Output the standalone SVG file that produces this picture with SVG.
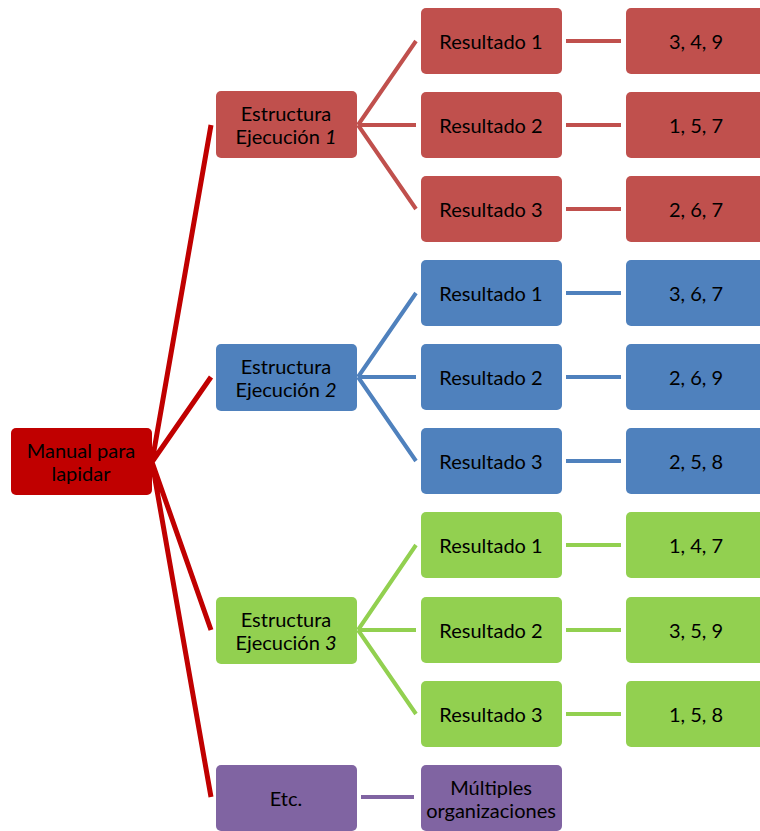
<svg xmlns="http://www.w3.org/2000/svg" width="760" height="831" viewBox="0 0 760 831">
<style>
text{font-family:Lato,"Liberation Sans",sans-serif;font-size:20px;fill:#000;text-anchor:middle;dominant-baseline:central}
.red{fill:#C0504D}.blue{fill:#4F81BD}.green{fill:#92D050}.purple{fill:#8064A2}.root{fill:#C00000}
.lr{stroke:#C00000;stroke-width:5;fill:none}
.cr{stroke:#C0504D;stroke-width:4;fill:none}
.cb{stroke:#4F81BD;stroke-width:4;fill:none}
.cg{stroke:#92D050;stroke-width:4;fill:none}
.cp{stroke:#8064A2;stroke-width:4;fill:none}
</style>
<g id="connectors">
<path class="lr" d="M152 462L211 125M152 462L211 377M152 462L211 630M152 462L211 797"/>
<path class="cr" d="M358 125L416 41M358 125L416 125M358 125L416 209M566 41L621 41M566 125L621 125M566 209L621 209"/>
<path class="cb" d="M358 377L416 293M358 377L416 377M358 377L416 461M566 293L621 293M566 377L621 377M566 461L621 461"/>
<path class="cg" d="M358 630L416 545M358 630L416 630M358 630L416 714M566 545L621 545M566 630L621 630M566 714L621 714"/>
<path class="cp" d="M361 797L414 797"/>
</g>
<g id="root"><rect class="root" x="11" y="428" width="141" height="67" rx="5"/><text x="81" y="450">Manual para</text><text x="81" y="473">lapidar</text></g>
<g id="e1"><rect class="red" x="216" y="91" width="141" height="67" rx="5"/><text x="286" y="113">Estructura</text><text x="286" y="136">Ejecución <tspan font-style="italic">1</tspan></text></g>
<g id="e2"><rect class="blue" x="216" y="344" width="141" height="67" rx="5"/><text x="286" y="366">Estructura</text><text x="286" y="389">Ejecución <tspan font-style="italic">2</tspan></text></g>
<g id="e3"><rect class="green" x="216" y="597" width="141" height="67" rx="5"/><text x="286" y="619">Estructura</text><text x="286" y="642">Ejecución <tspan font-style="italic">3</tspan></text></g>
<g id="etc"><rect class="purple" x="216" y="765" width="141" height="66" rx="5"/><text x="286" y="798">Etc.</text></g>
<g id="r1a"><rect class="red" x="421" y="8" width="141" height="66" rx="5"/><text x="491" y="41">Resultado 1</text></g>
<g id="r1b"><rect class="red" x="421" y="92" width="141" height="66" rx="5"/><text x="491" y="125">Resultado 2</text></g>
<g id="r1c"><rect class="red" x="421" y="176" width="141" height="66" rx="5"/><text x="491" y="209">Resultado 3</text></g>
<g id="r2a"><rect class="blue" x="421" y="260" width="141" height="66" rx="5"/><text x="491" y="293">Resultado 1</text></g>
<g id="r2b"><rect class="blue" x="421" y="344" width="141" height="66" rx="5"/><text x="491" y="377">Resultado 2</text></g>
<g id="r2c"><rect class="blue" x="421" y="428" width="141" height="66" rx="5"/><text x="491" y="461">Resultado 3</text></g>
<g id="r3a"><rect class="green" x="421" y="512" width="141" height="66" rx="5"/><text x="491" y="545">Resultado 1</text></g>
<g id="r3b"><rect class="green" x="421" y="597" width="141" height="66" rx="5"/><text x="491" y="630">Resultado 2</text></g>
<g id="r3c"><rect class="green" x="421" y="681" width="141" height="66" rx="5"/><text x="491" y="714">Resultado 3</text></g>
<g id="mult"><rect class="purple" x="421" y="765" width="141" height="66" rx="5"/><text x="491" y="787">Múltiples</text><text x="491" y="810">organizaciones</text></g>
<g id="v1a"><rect class="red" x="626" y="8" width="141" height="66" rx="5"/><text x="696" y="41">3, 4, 9</text></g>
<g id="v1b"><rect class="red" x="626" y="92" width="141" height="66" rx="5"/><text x="696" y="125">1, 5, 7</text></g>
<g id="v1c"><rect class="red" x="626" y="176" width="141" height="66" rx="5"/><text x="696" y="209">2, 6, 7</text></g>
<g id="v2a"><rect class="blue" x="626" y="260" width="141" height="66" rx="5"/><text x="696" y="293">3, 6, 7</text></g>
<g id="v2b"><rect class="blue" x="626" y="344" width="141" height="66" rx="5"/><text x="696" y="377">2, 6, 9</text></g>
<g id="v2c"><rect class="blue" x="626" y="428" width="141" height="66" rx="5"/><text x="696" y="461">2, 5, 8</text></g>
<g id="v3a"><rect class="green" x="626" y="512" width="141" height="66" rx="5"/><text x="696" y="545">1, 4, 7</text></g>
<g id="v3b"><rect class="green" x="626" y="597" width="141" height="66" rx="5"/><text x="696" y="630">3, 5, 9</text></g>
<g id="v3c"><rect class="green" x="626" y="681" width="141" height="66" rx="5"/><text x="696" y="714">1, 5, 8</text></g>
</svg>
